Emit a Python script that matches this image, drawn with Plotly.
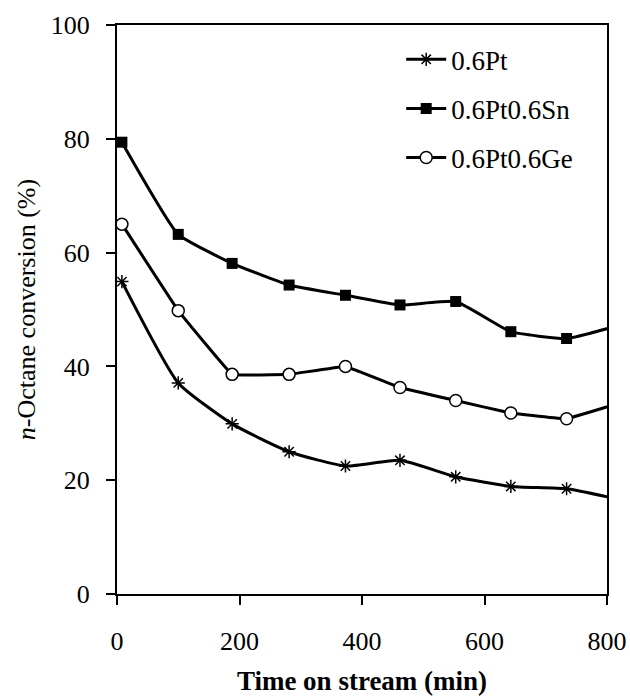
import plotly.graph_objects as go

# Data
time_min = [8, 100, 188, 281, 373, 462, 553, 643, 734, 825]
pt = [54.9, 37.1, 29.9, 25.0, 22.5, 23.5, 20.6, 18.9, 18.5, 16.5]
pt_sn = [79.4, 63.2, 58.1, 54.3, 52.5, 50.8, 51.4, 46.1, 44.9, 47.4]
pt_ge = [65.0, 49.8, 38.6, 38.6, 40.0, 36.3, 34.0, 31.8, 30.8, 33.7]
series_names = ["0.6Pt", "0.6Pt0.6Sn", "0.6Pt0.6Ge"]
x_ticks = [0, 200, 400, 600, 800]
y_ticks = [0, 20, 40, 60, 80, 100]

FONT = "Liberation Serif"

fig = go.Figure()
fig.add_trace(go.Scatter(
    x=time_min, y=pt, name=series_names[0], mode="lines+markers",
    line=dict(color="black", width=3, shape="spline", smoothing=0.5),
    marker=dict(symbol="asterisk-open", size=11, color="black", line=dict(width=1.5, color="black")),
    legendgroup="a"))
fig.add_trace(go.Scatter(
    x=time_min, y=pt_sn, name=series_names[1], mode="lines+markers",
    line=dict(color="black", width=3, shape="spline", smoothing=0.4),
    marker=dict(symbol="square", size=11, color="black"),
    legendgroup="b"))
fig.add_trace(go.Scatter(
    x=time_min, y=pt_ge, name=series_names[2], mode="lines+markers",
    line=dict(color="black", width=3, shape="spline", smoothing=0.15),
    marker=dict(symbol="circle", size=12, color="white", line=dict(width=1.5, color="black")),
    legendgroup="c"))

fig.update_layout(
    width=630, height=697,
    margin=dict(l=117, r=23, t=25, b=103),
    paper_bgcolor="white", plot_bgcolor="white",
    font=dict(family=FONT, size=26, color="black"),
    showlegend=True,
    legend=dict(x=0.58, y=0.982, xanchor="left", yanchor="top",
                bgcolor="rgba(0,0,0,0)", font=dict(family=FONT, size=27),
                traceorder="grouped", tracegroupgap=11, itemwidth=40),
)
fig.update_xaxes(
    range=[0, 800], tickvals=x_ticks, ticks="outside", ticklen=9, tickwidth=2,
    tickcolor="black", showline=True, linecolor="black", linewidth=2, mirror=True,
    showgrid=False, zeroline=False, ticklabelstandoff=14, automargin=False,
    tickfont=dict(family=FONT, size=26),
    title=dict(text="<b>Time on stream (min)</b>", font=dict(family=FONT, size=27), standoff=16),
)
fig.update_yaxes(
    range=[0, 100], tickvals=y_ticks, ticks="outside", ticklen=9, tickwidth=2,
    tickcolor="black", showline=True, linecolor="black", linewidth=2, mirror=True,
    showgrid=False, zeroline=False, ticklabelstandoff=11, automargin=False,
    tickfont=dict(family=FONT, size=26),
    title=dict(text="<i>n</i>-Octane conversion (%)", font=dict(family=FONT, size=26), standoff=8),
)

fig.write_html("out.html")
